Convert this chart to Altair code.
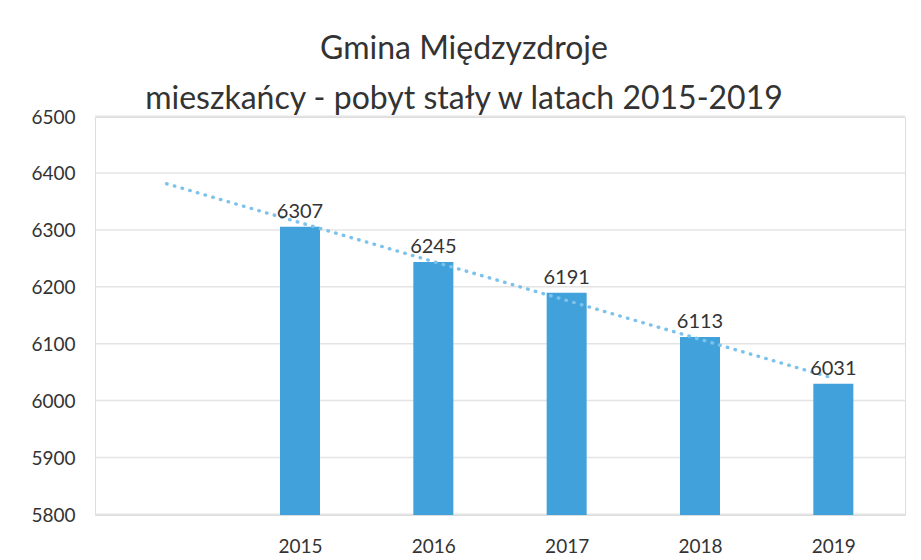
import altair as alt
import pandas as pd

years = [2015, 2016, 2017, 2018, 2019]
residents = [6307, 6245, 6191, 6113, 6031]
y_ticks = [5800, 5900, 6000, 6100, 6200, 6300, 6400, 6500]
trend_extent = [2014, 2019]
title_lines = ["Gmina Międzyzdroje", "mieszkańcy - pobyt stały w latach 2015-2019"]

df = pd.DataFrame({"rok": years, "mieszkancy": residents})
grid_df = pd.DataFrame({"mieszkancy": y_ticks})

FONT = "Lato"
TXT = "#333333"

x = alt.X(
    "rok:Q",
    scale=alt.Scale(domain=[2013.5, 2019.5], nice=False, zero=False),
    axis=alt.Axis(
        values=years, format="d", grid=False, ticks=False, domain=False,
        labelFont=FONT, labelFontSize=19, labelColor=TXT, labelPadding=22,
        title=None,
    ),
)
y_scale = alt.Scale(domain=[5800, 6500], nice=False, zero=False)
y = alt.Y(
    "mieszkancy:Q",
    scale=y_scale,
    axis=alt.Axis(
        values=y_ticks, format="d", grid=False, ticks=False, domain=False,
        labelFont=FONT, labelFontSize=19, labelColor=TXT, labelPadding=20,
        title=None,
    ),
)

gridlines = alt.Chart(grid_df).mark_rect(
    color="#e4e4e4", y2Offset=-1.5, strokeWidth=0
).encode(
    y=y, y2=alt.Y2("mieszkancy:Q"), x=alt.value(0), x2=alt.value(810)
)

base = alt.Chart(df)

bars = base.mark_bar(color="#41a1db", size=40).encode(
    x=x, y=y, y2=alt.datum(5800)
)

labels = base.mark_text(
    font=FONT, fontSize=20, color=TXT, baseline="bottom", dy=-5
).encode(x=x, y=y, text=alt.Text("mieszkancy:Q", format="d"))

trend = base.transform_regression(
    "rok", "mieszkancy", extent=trend_extent
).mark_line(
    color="#7cc2ec", strokeWidth=3.4, strokeDash=[0.5, 7.5], strokeCap="round"
).encode(x=x, y=y)

chart = (
    alt.layer(gridlines, bars, trend, labels)
    .properties(
        width=810,
        height=398,
        autosize=alt.AutoSizeParams(type="none"),
        padding={"left": 87, "top": 109, "right": 8, "bottom": 40},
        title=alt.TitleParams(
            text=title_lines, font=FONT, fontSize=32, fontWeight="normal",
            color=TXT, anchor="middle", frame="group", dx=-36, dy=10, offset=2,
            lineHeight=50,
        ),
    )
    .configure_axis(domain=False, ticks=False, grid=False)
    .configure_view(strokeWidth=0, stroke="transparent")
    .configure(background="white")
)

chart.save("out.html", embed_options={"renderer": "svg", "actions": False})
